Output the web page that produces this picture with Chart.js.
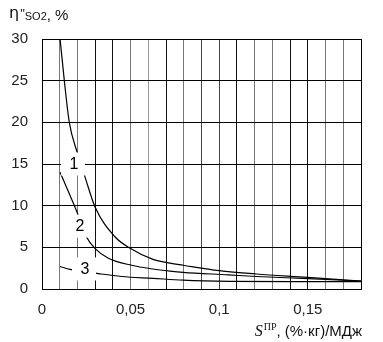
<!DOCTYPE html>
<html>
<head>
<meta charset="utf-8">
<script src="https://cdn.jsdelivr.net/npm/chart.js@4/dist/chart.umd.min.js"></script>
<style>
    body { margin: 0; background: #fff; }
    #wrap { width: 383px; height: 342px; position: relative; }
</style>
</head>
<body>
<div id="wrap"><canvas id="chart"></canvas></div>
<script>
// curve 1
const s1 = [0.0102, 0.0126, 0.0154, 0.020, 0.0239, 0.030, 0.041, 0.050, 0.0626, 0.0722, 0.0796, 0.100, 0.121, 0.150, 0.180];
const eta1 = [30, 25, 20, 16.3, 13.7, 9.8, 6.3, 4.85, 3.55, 3.1, 2.85, 2.2, 1.8, 1.4, 0.95];

// curve 2
const s2 = [0.0102, 0.020, 0.0252, 0.030, 0.0374, 0.0506, 0.0626, 0.0722, 0.0796, 0.105, 0.121, 0.150, 0.180];
const eta2 = [14, 9.1, 6.2, 4.85, 3.7, 2.85, 2.4, 2.15, 2.0, 1.7, 1.5, 1.25, 0.95];

// curve 3
const s3 = [0.0102, 0.0158, 0.0318, 0.045, 0.0626, 0.0796, 0.106, 0.150, 0.180];
const eta3 = [2.7, 2.36, 1.85, 1.5, 1.28, 1.06, 0.92, 0.88, 0.88];

// curve numbers
const curveNames = ['1', '2', '3'];
const nameAtS = [0.0175, 0.0209, 0.0237];
const nameAtEta = [15, 7.55, 2.4];

const xTickValues = [0, 0.05, 0.1, 0.15];
const xTickLabels = ['0', '0,05', '0,1', '0,15'];
const yTickValues = [0, 5, 10, 15, 20, 25, 30];
const yTickLabels = ['0', '5', '10', '15', '20', '25', '30'];

// vertical grid every 0.01, shades vary line to line
const xGridColors = ['#000', '#777', '#777', '#111', '#111', '#777', '#999', '#111', '#777', '#444',
    '#444', '#111', '#777', '#777', '#111', '#111', '#777', '#777', '#000'];

function toPoints(xs, ys) {
    return xs.map((x, i) => ({ x: x, y: ys[i] }));
}

const curveNamePlugin = {
    id: 'curveNames',
    afterDatasetsDraw(chart) {
        const ctx = chart.ctx;
        const xs = chart.scales.x;
        const ys = chart.scales.y;
        ctx.save();
        ctx.font = '16px "Liberation Sans", Arial, sans-serif';
        ctx.textAlign = 'center';
        ctx.textBaseline = 'middle';
        for (let i = 0; i < curveNames.length; i++) {
            const px = xs.getPixelForValue(nameAtS[i]);
            const py = ys.getPixelForValue(nameAtEta[i]);
            ctx.fillStyle = '#fff';
            ctx.fillRect(px - 12, py - 11.5, 24, 23);
            ctx.fillStyle = '#000';
            ctx.fillText(curveNames[i], px + 1, py + 1);
        }
        ctx.restore();
    }
};

const axisTitlePlugin = {
    id: 'axisTitles',
    afterDraw(chart) {
        const ctx = chart.ctx;
        ctx.save();
        ctx.fillStyle = '#111';
        ctx.textBaseline = 'alphabetic';
        ctx.textAlign = 'left';

        // η"SO2, %
        let x = 9;
        ctx.font = '16px "DejaVu Sans", sans-serif';
        ctx.fillText('η', x, 18);
        x += ctx.measureText('η').width + 1;
        ctx.font = '13px "Liberation Sans", Arial, sans-serif';
        ctx.fillText('"', x, 18);
        x += ctx.measureText('"').width;
        ctx.font = '11px "Liberation Sans", Arial, sans-serif';
        ctx.fillText('SO2', x, 20);
        x += ctx.measureText('SO2').width;
        ctx.font = '15px "Liberation Sans", Arial, sans-serif';
        ctx.fillText(', %', x, 20);

        // S^ПР, (%·кг)/МДж, right-aligned at the plot edge
        const tail = ', (%·кг)/МДж';
        ctx.font = '15px "Liberation Sans", Arial, sans-serif';
        const tailW = ctx.measureText(tail).width;
        ctx.font = '10px "Liberation Serif", serif';
        const supW = ctx.measureText('ПР').width;
        ctx.font = 'italic 16px "Liberation Serif", serif';
        const sW = ctx.measureText('S').width;
        let tx = 362 - tailW - supW - sW - 1;
        const base = 336;
        ctx.fillText('S', tx, base);
        tx += sW + 1;
        ctx.font = '10px "Liberation Serif", serif';
        ctx.fillText('ПР', tx, base - 6);
        tx += supW;
        ctx.font = '15px "Liberation Sans", Arial, sans-serif';
        ctx.fillText(tail, tx, base);
        ctx.restore();
    }
};

const lineStyle = {
    borderColor: '#000',
    borderWidth: 1.2,
    pointRadius: 0,
    fill: false,
    cubicInterpolationMode: 'monotone'
};

new Chart(document.getElementById('chart'), {
    type: 'line',
    data: {
        datasets: [
            Object.assign({ label: '1', data: toPoints(s1, eta1) }, lineStyle),
            Object.assign({ label: '2', data: toPoints(s2, eta2) }, lineStyle),
            Object.assign({ label: '3', data: toPoints(s3, eta3) }, lineStyle)
        ]
    },
    options: {
        responsive: true,
        maintainAspectRatio: false,
        animation: false,
        layout: { padding: { top: 39, right: 22, left: 0, bottom: 0 } },
        plugins: {
            legend: { display: false },
            tooltip: { enabled: false }
        },
        scales: {
            x: {
                type: 'linear',
                min: 0,
                max: 0.18,
                afterBuildTicks(scale) {
                    const t = [];
                    for (let i = 0; i <= 18; i++) t.push({ value: i / 100 });
                    scale.ticks = t;
                },
                afterFit(scale) { scale.height = 53; },
                grid: {
                    color: (c) => xGridColors[c.index] || '#777',
                    lineWidth: 1,
                    drawTicks: false
                },
                border: { display: true, color: '#000', width: 1 },
                ticks: {
                    autoSkip: false,
                    maxRotation: 0,
                    padding: 12,
                    color: '#222',
                    font: { family: '"Liberation Sans", Arial, sans-serif', size: 15 },
                    callback(value) {
                        const i = xTickValues.findIndex(v => Math.abs(v - value) < 1e-6);
                        return i >= 0 ? xTickLabels[i] : '';
                    }
                }
            },
            y: {
                min: 0,
                max: 30,
                afterBuildTicks(scale) {
                    scale.ticks = yTickValues.map(v => ({ value: v }));
                },
                afterFit(scale) { scale.width = 42; },
                grid: { color: '#000', lineWidth: 1, drawTicks: false },
                border: { display: true, color: '#000', width: 1 },
                ticks: {
                    padding: 14,
                    color: '#222',
                    font: { family: '"Liberation Sans", Arial, sans-serif', size: 15 },
                    callback(value) {
                        const i = yTickValues.indexOf(value);
                        return i >= 0 ? yTickLabels[i] : '';
                    }
                }
            }
        }
    },
    plugins: [curveNamePlugin, axisTitlePlugin]
});
</script>
</body>
</html>
